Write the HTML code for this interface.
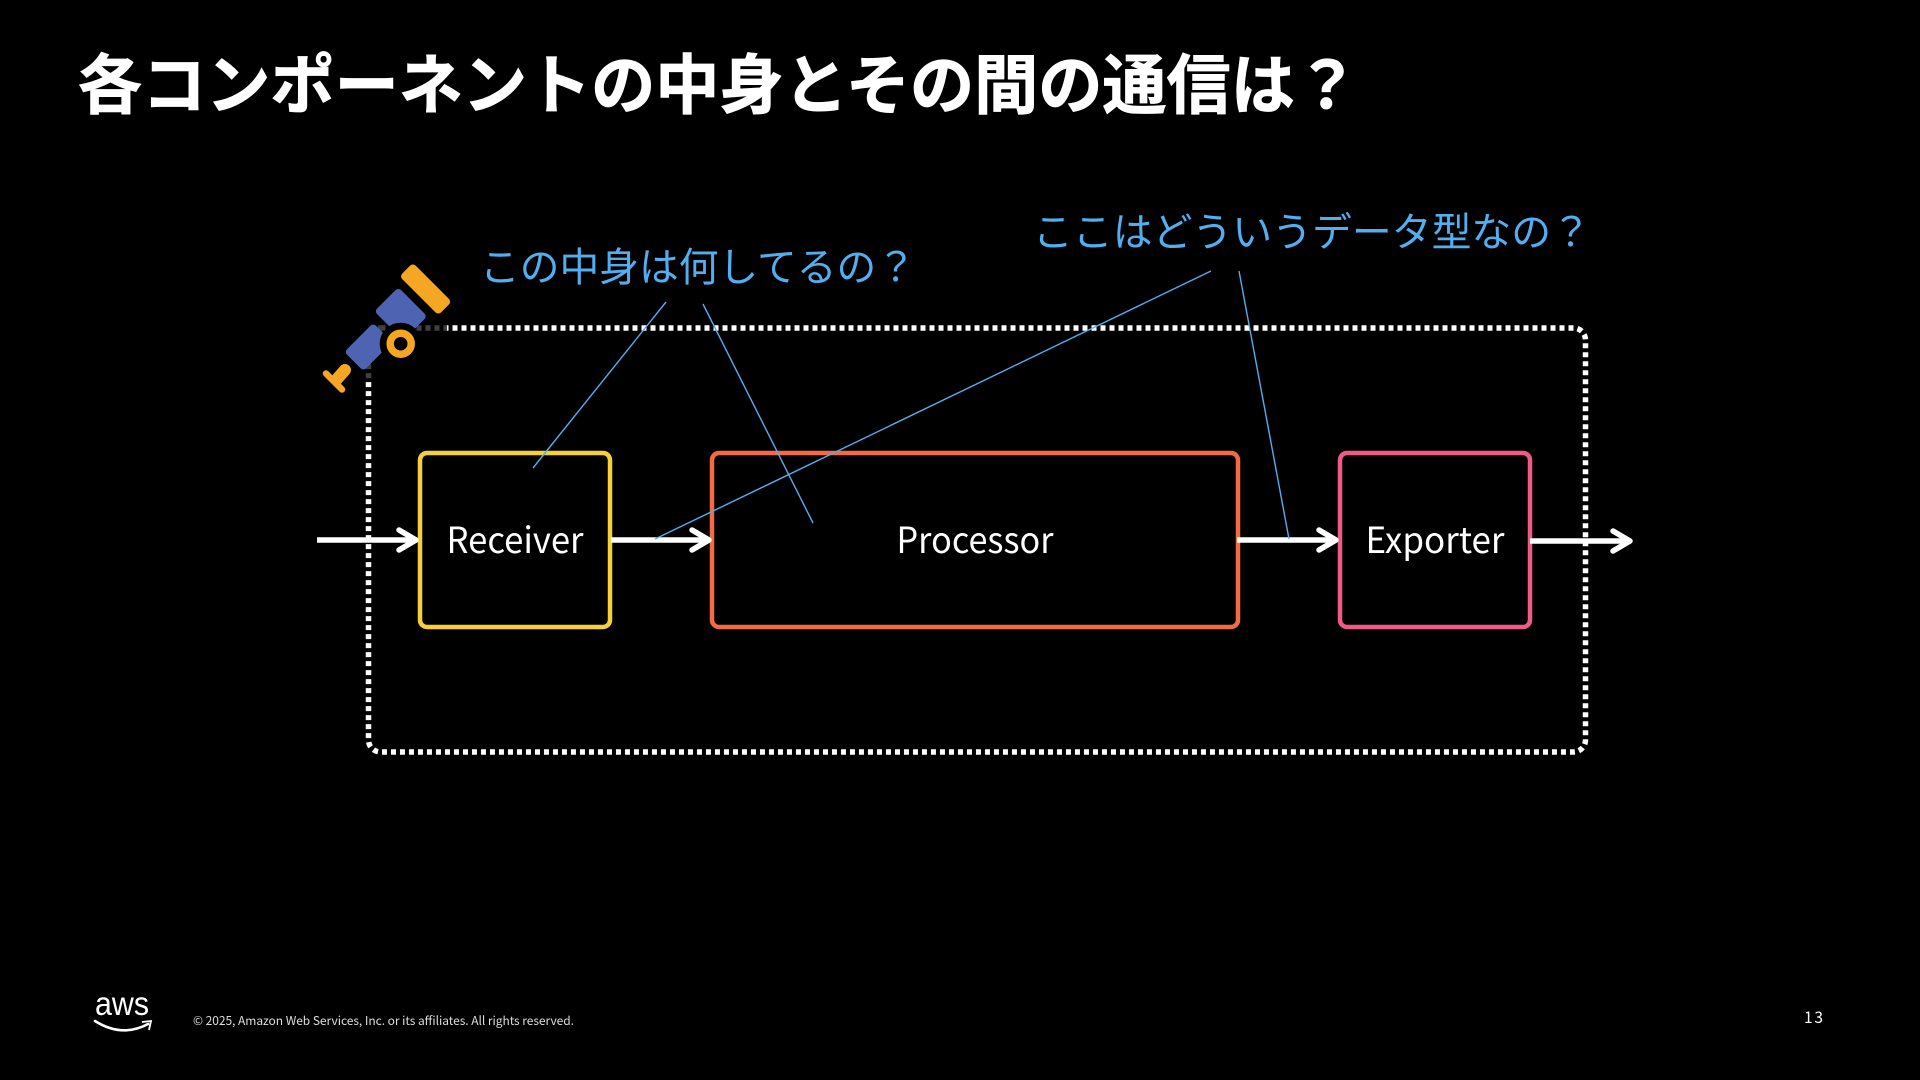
<!DOCTYPE html>
<html lang="ja"><head><meta charset="utf-8"><title>各コンポーネントの中身とその間の通信は？</title>
<style>html,body{margin:0;padding:0;background:#000;width:1920px;height:1080px;overflow:hidden}svg{display:block}
text{font-family:"Liberation Sans","Noto Sans CJK JP",sans-serif}
.j{font-family:"Noto Sans CJK JP","Liberation Sans",sans-serif}
</style></head><body>
<svg width="1920" height="1080" viewBox="0 0 1920 1080" xmlns="http://www.w3.org/2000/svg">
<rect width="1920" height="1080" fill="#000"/>
<text class="j" x="78" y="108" font-size="65" font-weight="700" fill="#fff" stroke="#fff" stroke-width="0.8" textLength="1281" lengthAdjust="spacingAndGlyphs">各コンポーネントの中身とその間の通信は？</text>
<!-- dotted boundary -->
<rect x="368.5" y="328" width="1217" height="424" rx="12" fill="none" stroke="#fff" stroke-width="5.5" stroke-dasharray="5 4"/>
<rect x="360" y="320" width="87" height="16" fill="#000" opacity=".75"/>
<rect x="360" y="320" width="18" height="62" fill="#000" opacity=".75"/>
<!-- boxes -->
<rect x="420" y="453" width="190" height="174" rx="7" fill="#000" stroke="#f7cf3a" stroke-width="4.5"/>
<rect x="712" y="453" width="526" height="174" rx="7" fill="#000" stroke="#f26b43" stroke-width="4.5"/>
<rect x="1340" y="453" width="190" height="174" rx="7" fill="#000" stroke="#ef5a86" stroke-width="4.5"/>
<text class="j" x="515" y="553" font-size="36" fill="#fff" text-anchor="middle" textLength="137" lengthAdjust="spacingAndGlyphs">Receiver</text>
<text class="j" x="975" y="553" font-size="36" fill="#fff" text-anchor="middle" textLength="157" lengthAdjust="spacingAndGlyphs">Processor</text>
<text class="j" x="1435" y="553" font-size="36" fill="#fff" text-anchor="middle" textLength="139" lengthAdjust="spacingAndGlyphs">Exporter</text>
<!-- arrows -->
<g fill="none" stroke="#fff" stroke-width="5.5" stroke-linecap="round" stroke-linejoin="round">
<path d="M317 540H415" stroke-linecap="butt"/><path d="M399 530L416 540L399 550"/>
<path d="M611 540H708" stroke-linecap="butt"/><path d="M692 530L709 540L692 550"/>
<path d="M1237 540H1335" stroke-linecap="butt"/><path d="M1319 530L1336 540L1319 550"/>
<path d="M1530 541H1628" stroke-linecap="butt"/><path d="M1613 531L1630 541L1613 551"/>
</g>
<!-- blue leaders -->
<g stroke="#52aeef" stroke-width="1.4" fill="none">
<path d="M666 302L533 468"/>
<path d="M703 304L813 523"/>
<path d="M1211 271L655 539"/>
<path d="M1239 271L1289 539"/>
</g>
<text class="j" x="480" y="281" font-size="40" fill="#52aeef" textLength="436" lengthAdjust="spacingAndGlyphs">この中身は何してるの？</text>
<text class="j" x="1033" y="246" font-size="40" fill="#52aeef" textLength="558" lengthAdjust="spacingAndGlyphs">ここはどういうデータ型なの？</text>
<!-- telescope -->
<g>
<rect x="398.1" y="279.5" width="55" height="19" rx="4" fill="#f5a623" transform="rotate(45 425.6 289)"/>
<rect x="380.3" y="296.8" width="41" height="34" rx="4" fill="#4f63b3" transform="rotate(45 400.8 313.8)"/>
<rect x="347.8" y="333.5" width="41" height="27" rx="4" fill="#4f63b3" transform="rotate(-45 368.3 347)"/>
<circle cx="400.7" cy="343.7" r="21" fill="#000"/>
<circle cx="400.7" cy="343.7" r="10.5" fill="none" stroke="#f5a623" stroke-width="7.5"/>
<path d="M326 373.5L342 389.5" stroke="#f5a623" stroke-width="6.5" stroke-linecap="round"/>
<path d="M337 379L345 370" stroke="#f5a623" stroke-width="12" stroke-linecap="round"/>
</g>
<!-- footer -->
<text x="95" y="1015" font-size="33" fill="#fff" textLength="54" lengthAdjust="spacingAndGlyphs">aws</text>
<path d="M95 1021Q122 1038 148 1024" fill="none" stroke="#fff" stroke-width="2.6" stroke-linecap="round"/>
<path d="M142 1022L151 1021L149 1030" fill="none" stroke="#fff" stroke-width="1.8"/>
<text class="j" x="193" y="1025" font-size="12" fill="#ddd" textLength="381" lengthAdjust="spacing">© 2025, Amazon Web Services, Inc. or its affiliates. All rights reserved.</text>
<text class="j" x="1804" y="1023" font-size="15.5" fill="#fff" textLength="19">13</text>
</svg>
</body></html>
